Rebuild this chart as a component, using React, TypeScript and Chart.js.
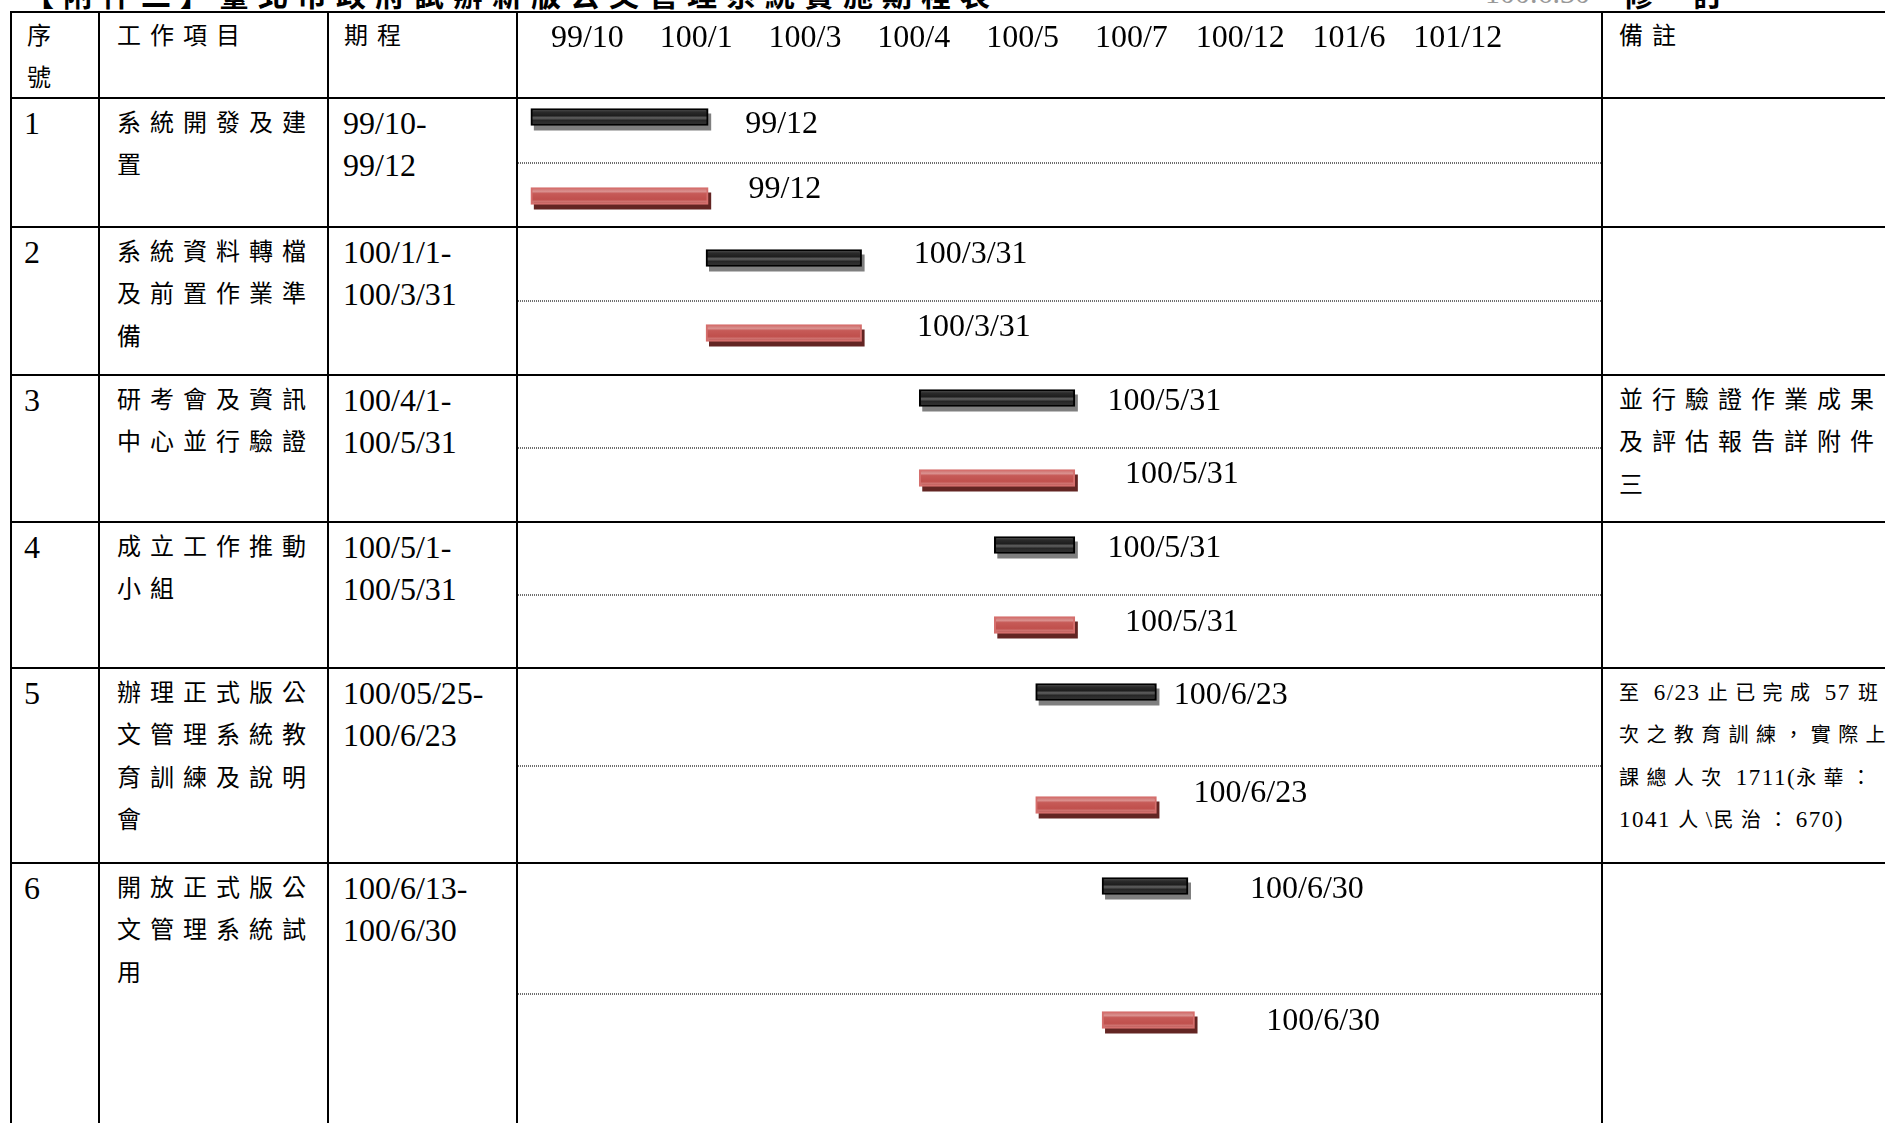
import React, { useEffect, useRef } from 'react';
import { Chart, registerables } from 'chart.js';

Chart.register(...registerables);

// ---------------- data ----------------
// header timeline labels (slot index 0..8 on the x scale)
const HEADER_TICKS = ['99/10', '100/1', '100/3', '100/4', '100/5', '100/7', '100/12', '101/6', '101/12'];

const TASK_NO = ['1', '2', '3', '4', '5', '6'];

const TASK_NAMES = [
  ['系統開發及建', '置'],
  ['系統資料轉檔', '及前置作業準', '備'],
  ['研考會及資訊', '中心並行驗證'],
  ['成立工作推動', '小組'],
  ['辦理正式版公', '文管理系統教', '育訓練及說明', '會'],
  ['開放正式版公', '文管理系統試', '用'],
];

const PERIODS = [
  ['99/10-', '99/12'],
  ['100/1/1-', '100/3/31'],
  ['100/4/1-', '100/5/31'],
  ['100/5/1-', '100/5/31'],
  ['100/05/25-', '100/6/23'],
  ['100/6/13-', '100/6/30'],
];

// bar extents, in header-slot units (0 = 99/10 ... 8 = 101/12)
const PLAN_START = [-0.52, 1.09, 3.05, 3.74, 4.12, 4.73];
const PLAN_END = [1.11, 2.52, 4.48, 4.48, 5.23, 5.52];
const ACTUAL_START = [-0.52, 1.09, 3.05, 3.74, 4.12, 4.73];
const ACTUAL_END = [1.11, 2.52, 4.48, 4.48, 5.23, 5.58];

const PLAN_LABEL = ['99/12', '100/3/31', '100/5/31', '100/5/31', '100/6/23', '100/6/30'];
const ACTUAL_LABEL = ['99/12', '100/3/31', '100/5/31', '100/5/31', '100/6/23', '100/6/30'];
// where each end-date label starts, same slot units
const PLAN_LABEL_AT = [1.45, 3.0, 4.78, 4.78, 5.39, 6.09];
const ACTUAL_LABEL_AT = [1.48, 3.03, 4.94, 4.94, 5.57, 6.24];

const NOTES = [
  [],
  [],
  ['並行驗證作業成果', '及評估報告詳附件', '三'],
  [],
  ['至 6/23 止已完成 57 班', '次之教育訓練，實際上', '課總人次 1711(永華：', '1041 人\\民治：670)'],
  [],
];

const HEADERS = { no: ['序', '號'], item: ['工作項目'], period: ['期程'], note: ['備註'] };

// ---------------- layout ----------------
const W = 1885;
const H = 1123;
const COL_X = [11, 99, 328, 517, 1602];
const ROW_Y = [12, 98, 227, 375, 522, 668, 863];
const SPLIT_Y = [163, 301, 448, 595, 766, 994];
const PLAN_CY = [117, 258, 398, 545, 692, 886];
const ACT_CY = [196, 333, 478, 625, 805, 1020];
const PLAN_LABEL_CY = [122, 252, 399, 546, 693, 887];
const ACT_LABEL_CY = [187, 325, 472, 620, 791, 1019];
const GANTT_L = 518;
const GANTT_W = 1083;
const X_MIN = -0.638;
const X_MAX = 9.316;
const LINE_H = 42.5;
const BAR_T = 17;
const CANVAS_H = 60;
const LATIN = 32;
const FONT_STACK = "'Liberation Serif', 'Noto Sans CJK TC', serif";
const NOTE_SMALL = [false, false, false, false, true, false];

const STYLE: Record<string, any> = {
  plan: {
    border: '#000000',
    shadow: '#7f7f7f',
    stops: [
      [0, '#555555'],
      [0.22, '#2a2a2a'],
      [0.42, '#1e1e1e'],
      [0.55, '#626262'],
      [0.7, '#262626'],
      [1, '#3a3a3a'],
    ],
  },
  actual: {
    border: '#d56f6d',
    shadow: '#632523',
    stops: [
      [0, '#c0504d'],
      [0.22, '#dc9593'],
      [0.36, '#c65a57'],
      [0.7, '#c0504d'],
      [0.84, '#d07573'],
      [1, '#b94b48'],
    ],
  },
};

function gradientFor(kind: string) {
  return (c: any) => {
    const chart = c.chart;
    const st = STYLE[kind];
    if (!chart.chartArea || !chart.scales || !chart.scales.y) return st.stops[0][1];
    const idx = typeof c.dataIndex === 'number' ? c.dataIndex : 0;
    const cy = chart.scales.y.getPixelForValue(idx);
    const g = chart.ctx.createLinearGradient(0, cy - BAR_T / 2, 0, cy + BAR_T / 2);
    st.stops.forEach((s: any) => g.addColorStop(s[0], s[1]));
    return g;
  };
}

const barDecor = {
  id: 'barDecor',
  beforeDatasetsDraw(chart: any) {
    const ctx = chart.ctx;
    chart.data.datasets.forEach((ds: any, di: number) => {
      const st = STYLE[ds.kind];
      chart.getDatasetMeta(di).data.forEach((el: any) => {
        const p = el.getProps(['x', 'y', 'base', 'height'], true);
        const left = Math.min(p.x, p.base);
        const w = Math.abs(p.x - p.base);
        ctx.save();
        ctx.fillStyle = st.shadow;
        ctx.fillRect(left + 3, p.y - p.height / 2 + 5, w, p.height);
        ctx.restore();
      });
    });
  },
  afterDatasetsDraw(chart: any) {
    const ctx = chart.ctx;
    const xs = chart.scales.x;
    chart.data.datasets.forEach((ds: any) => {
      ctx.save();
      ctx.font = LATIN + 'px "Liberation Serif"';
      ctx.fillStyle = '#000';
      ctx.textAlign = 'left';
      ctx.textBaseline = 'alphabetic';
      ctx.fillText(ds.endLabel, xs.getPixelForValue(ds.labelAt), ds.labelRelY + LATIN * 0.33);
      ctx.restore();
    });
  },
};

function GanttBar(props: {
  kind: string;
  start: number;
  end: number;
  label: string;
  labelAt: number;
  cy: number;
  labelCy: number;
}) {
  const ref = useRef<HTMLCanvasElement>(null);
  const top = props.cy - CANVAS_H / 2;
  useEffect(() => {
    const chart = new Chart(ref.current as HTMLCanvasElement, {
      type: 'bar',
      data: {
        labels: [props.kind],
        datasets: [
          {
            data: [[props.start, props.end]],
            backgroundColor: gradientFor(props.kind),
            borderColor: STYLE[props.kind].border,
            borderWidth: 2,
            borderSkipped: false,
            barThickness: BAR_T,
            kind: props.kind,
            endLabel: props.label,
            labelAt: props.labelAt,
            labelRelY: props.labelCy - top,
          } as any,
        ],
      },
      options: {
        indexAxis: 'y',
        responsive: false,
        animation: false,
        devicePixelRatio: 1,
        events: [],
        layout: { padding: 0 },
        scales: {
          x: { type: 'linear', min: X_MIN, max: X_MAX, offset: false, display: false },
          y: { type: 'category', display: false },
        },
        plugins: { legend: { display: false }, tooltip: { enabled: false } },
      } as any,
      plugins: [barDecor],
    });
    return () => chart.destroy();
  }, []);
  return (
    <canvas
      ref={ref}
      width={GANTT_W}
      height={CANVAS_H}
      style={{ position: 'absolute', left: GANTT_L, top, width: GANTT_W, height: CANVAS_H }}
    />
  );
}

function HeaderAxis() {
  const ref = useRef<HTMLCanvasElement>(null);
  const top = ROW_Y[0] + 1;
  const height = ROW_Y[1] - ROW_Y[0] - 2;
  useEffect(() => {
    const chart = new Chart(ref.current as HTMLCanvasElement, {
      type: 'bar',
      data: { labels: [''], datasets: [] },
      options: {
        responsive: false,
        animation: false,
        devicePixelRatio: 1,
        events: [],
        layout: { padding: { top: 6, left: 0, right: 0, bottom: 0 } },
        scales: {
          x: {
            type: 'linear',
            position: 'top',
            offset: false,
            min: X_MIN,
            max: X_MAX,
            afterBuildTicks: (axis: any) => {
              axis.ticks = HEADER_TICKS.map((_, i) => ({ value: i }));
            },
            grid: { display: false, drawTicks: false, offset: false },
            border: { display: false },
            ticks: {
              autoSkip: false,
              maxRotation: 0,
              minRotation: 0,
              padding: 0,
              color: '#000',
              font: { family: 'Liberation Serif', size: LATIN },
              callback: (v: any) => HEADER_TICKS[v as number] ?? '',
            },
          },
          y: { display: false },
        },
        plugins: { legend: { display: false }, tooltip: { enabled: false } },
      } as any,
    });
    return () => chart.destroy();
  }, []);
  return (
    <canvas
      ref={ref}
      width={GANTT_W}
      height={height}
      style={{ position: 'absolute', left: GANTT_L, top, width: GANTT_W, height }}
    />
  );
}

const CJK_RE = /([\u2E80-\u9FFF\uF900-\uFAFF\uFE30-\uFE4F\uFF00-\uFFEF\u3000-\u303F]+)/;

function Runs({ text, ls, latin }: { text: string; ls: number; latin?: React.CSSProperties }) {
  const parts = text.split(CJK_RE).filter((s) => s.length > 0);
  return (
    <>
      {parts.map((s, i) =>
        CJK_RE.test(s) ? (
          <span key={i} style={{ letterSpacing: ls }}>
            {s}
          </span>
        ) : (
          <span key={i} style={latin}>
            {s}
          </span>
        )
      )}
    </>
  );
}

function TextLines(props: {
  x: number;
  cy: number;
  lines: string[];
  size: number;
  ls?: number;
  latin?: React.CSSProperties;
}) {
  return (
    <>
      {props.lines.map((t, i) => (
        <div
          key={i}
          style={{
            position: 'absolute',
            left: props.x,
            top: props.cy + i * LINE_H - LINE_H / 2,
            height: LINE_H,
            lineHeight: LINE_H + 'px',
            fontSize: props.size,
            fontFamily: FONT_STACK,
            whiteSpace: 'nowrap',
            color: '#000',
          }}
        >
          <Runs text={t} ls={props.ls ?? 0} latin={props.latin} />
        </div>
      ))}
    </>
  );
}

export default function App() {
  const headCy = ROW_Y[0] + 24;
  return (
    <div
      style={{
        position: 'absolute',
        left: 0,
        top: 0,
        width: W,
        height: H,
        overflow: 'hidden',
        background: '#fff',
      }}
    >
      {/* clipped document title */}
      <div
        style={{
          position: 'absolute',
          left: 24,
          top: -22,
          height: 30,
          lineHeight: '30px',
          fontSize: 30,
          fontWeight: 700,
          fontFamily: "'Noto Sans CJK TC', sans-serif",
          letterSpacing: 9,
          whiteSpace: 'nowrap',
        }}
      >
        【附件二】臺北市政府試辦新版公文管理系統實施期程表
      </div>
      <div
        style={{
          position: 'absolute',
          left: 1485,
          top: -22,
          height: 30,
          lineHeight: '30px',
          fontSize: 30,
          fontFamily: "'Liberation Serif', serif",
          color: '#999',
          whiteSpace: 'nowrap',
        }}
      >
        100.6.30
      </div>
      <div
        style={{
          position: 'absolute',
          left: 1623,
          top: -22,
          height: 30,
          lineHeight: '30px',
          fontSize: 30,
          fontWeight: 700,
          fontFamily: "'Noto Sans CJK TC', sans-serif",
          letterSpacing: 40,
          whiteSpace: 'nowrap',
        }}
      >
        修訂
      </div>

      {/* grid */}
      {ROW_Y.map((y) => (
        <div
          key={'h' + y}
          style={{ position: 'absolute', left: COL_X[0] - 1, top: y - 1, width: W, height: 2, background: '#000' }}
        />
      ))}
      {COL_X.map((x) => (
        <div
          key={'v' + x}
          style={{ position: 'absolute', left: x - 1, top: ROW_Y[0] - 1, width: 2, height: H, background: '#000' }}
        />
      ))}
      {SPLIT_Y.map((y) => (
        <div
          key={'d' + y}
          style={{
            position: 'absolute',
            left: GANTT_L,
            top: y - 1,
            width: GANTT_W,
            height: 2,
            backgroundImage:
              'repeating-linear-gradient(90deg, #6e6e6e 0px, #6e6e6e 1px, transparent 1px, transparent 2px)',
          }}
        />
      ))}

      {/* header row */}
      <TextLines x={27} cy={headCy} lines={HEADERS.no} size={24} ls={9} />
      <TextLines x={117} cy={headCy} lines={HEADERS.item} size={24} ls={9} />
      <TextLines x={344} cy={headCy} lines={HEADERS.period} size={24} ls={9} />
      <TextLines x={1619} cy={headCy} lines={HEADERS.note} size={24} ls={9} />
      <HeaderAxis />

      {/* task rows */}
      {TASK_NO.map((no, i) => {
        const cy = ROW_Y[i + 1] + 25;
        return (
          <React.Fragment key={no}>
            <TextLines x={24} cy={cy} lines={[no]} size={LATIN} />
            <TextLines x={117} cy={cy} lines={TASK_NAMES[i]} size={24} ls={9} />
            <TextLines x={343} cy={cy} lines={PERIODS[i]} size={LATIN} />
            {NOTES[i].length > 0 &&
              (NOTE_SMALL[i] ? (
                <TextLines
                  x={1619}
                  cy={cy}
                  lines={NOTES[i]}
                  size={20}
                  ls={7.4}
                  latin={{ fontSize: 23, letterSpacing: 1.5 }}
                />
              ) : (
                <TextLines x={1619} cy={cy} lines={NOTES[i]} size={24} ls={9} />
              ))}
            <GanttBar
              kind="plan"
              start={PLAN_START[i]}
              end={PLAN_END[i]}
              label={PLAN_LABEL[i]}
              labelAt={PLAN_LABEL_AT[i]}
              cy={PLAN_CY[i]}
              labelCy={PLAN_LABEL_CY[i]}
            />
            <GanttBar
              kind="actual"
              start={ACTUAL_START[i]}
              end={ACTUAL_END[i]}
              label={ACTUAL_LABEL[i]}
              labelAt={ACTUAL_LABEL_AT[i]}
              cy={ACT_CY[i]}
              labelCy={ACT_LABEL_CY[i]}
            />
          </React.Fragment>
        );
      })}
    </div>
  );
}
